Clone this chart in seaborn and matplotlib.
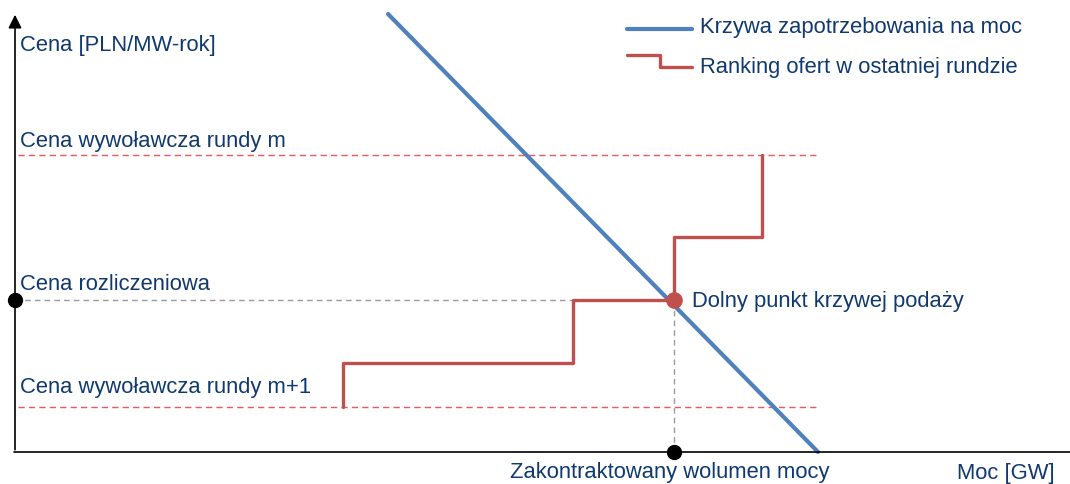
import matplotlib
matplotlib.use('Agg')
import matplotlib.pyplot as plt
import seaborn as sns
import pandas as pd

# schematic units (volume, price)
demand_x = [373, 803]
demand_y = [438, 0]

offer_x = [328, 328, 558, 558, 659, 659, 747, 747]
offer_y = [45, 89, 89, 152, 152, 215, 215, 297]

price_round_m = 297
price_round_m1 = 45
clearing_price = 152
contracted_volume = 659
dashed_end = 803

labels = {
    'ylabel': 'Cena [PLN/MW-rok]',
    'xlabel': 'Moc [GW]',
    'round_m': 'Cena wywoławcza rundy m',
    'round_m1': 'Cena wywoławcza rundy m+1',
    'clearing': 'Cena rozliczeniowa',
    'point': 'Dolny punkt krzywej podaży',
    'volume': 'Zakontraktowany wolumen mocy',
    'demand': 'Krzywa zapotrzebowania na moc',
    'offers': 'Ranking ofert w ostatniej rundzie',
}

sns.set_theme(style='white')
plt.rcParams['font.family'] = ['Liberation Sans', 'DejaVu Sans']

blue = '#4F81BD'
red = '#C0504D'
red_dash = '#E8585C'
grey = '#9A9A9A'
navy = '#10396F'
fs = 15.8

fig = plt.figure(figsize=(10.7, 4.85), dpi=100)
ax = fig.add_axes([0, 0, 1, 1])
ax.set_xlim(-15, 1055)
ax.set_ylim(-32, 453)
ax.axis('off')

# helper lines
ax.plot([3, dashed_end], [price_round_m, price_round_m], ls=(0, (4.5, 3)), color=red_dash, lw=1.0)
ax.plot([3, dashed_end], [price_round_m1, price_round_m1], ls=(0, (4.5, 3)), color=red_dash, lw=1.0)
ax.plot([0, contracted_volume], [clearing_price, clearing_price], ls=(0, (4, 3)), color=grey, lw=1.0)
ax.plot([contracted_volume, contracted_volume], [0, clearing_price], ls=(0, (4, 3)), color=grey, lw=1.0)

# curves
demand = pd.DataFrame({'x': demand_x, 'y': demand_y})
sns.lineplot(data=demand, x='x', y='y', ax=ax, color=blue, lw=3.0,
             sort=False, estimator=None)
offers = pd.DataFrame({'x': offer_x, 'y': offer_y})
sns.lineplot(data=offers, x='x', y='y', ax=ax, color=red, lw=2.4,
             sort=False, estimator=None)

# axes with arrow
ax.plot([-1, 1055], [0, 0], color='black', lw=1.2)
ax.annotate('', xy=(0, 440), xytext=(0, -0.5),
            arrowprops=dict(arrowstyle='-|>', color='black', lw=1.2, mutation_scale=20))

# points
ax.plot([0], [clearing_price], 'o', color='black', ms=10, clip_on=False)
ax.plot([contracted_volume], [0], 'o', color='black', ms=10)
ax.plot([contracted_volume], [clearing_price], 'o', color=red, ms=11, zorder=5)

# labels
ax.text(5, 408, labels['ylabel'], color=navy, fontsize=fs, va='center')
ax.text(5, 312, labels['round_m'], color=navy, fontsize=fs, va='center')
ax.text(5, 169, labels['clearing'], color=navy, fontsize=fs, va='center')
ax.text(5, 65, labels['round_m1'], color=navy, fontsize=fs, va='center')
ax.text(677, 152, labels['point'], color=navy, fontsize=fs, va='center')
ax.text(655, -20, labels['volume'], color=navy, fontsize=fs, va='center', ha='center')
ax.text(942, -21, labels['xlabel'], color=navy, fontsize=fs, va='center')

# legend drawn by hand
ax.plot([612, 677], [423, 423], color=blue, lw=3.0)
ax.plot([612, 645, 645, 677], [397, 397, 385, 385], color=red, lw=2.4)
ax.text(685, 425, labels['demand'], color=navy, fontsize=fs, va='center')
ax.text(685, 385, labels['offers'], color=navy, fontsize=fs, va='center')

fig.savefig('out.png', dpi=100)
